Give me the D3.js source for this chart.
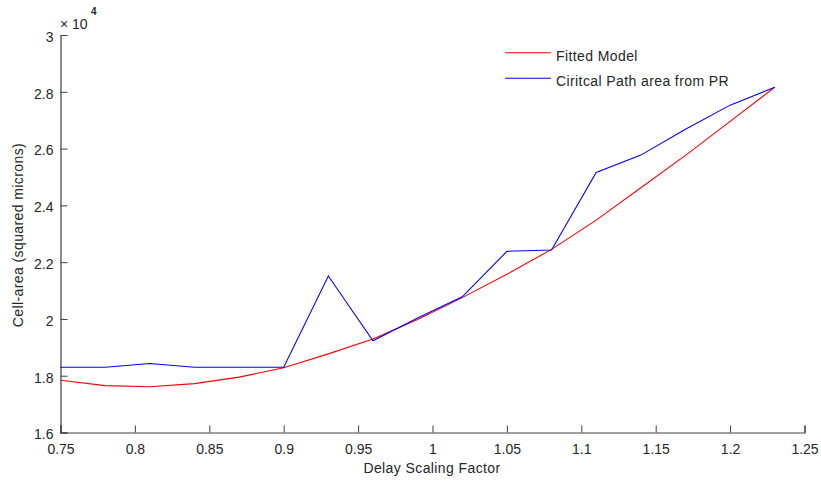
<!DOCTYPE html>
<html><head><meta charset="utf-8">
<script src="https://cdn.jsdelivr.net/npm/d3@7"></script>
<style>
html,body{margin:0;padding:0;background:#fff;}
text{font-family:"Liberation Sans",Arial,sans-serif;fill:#262626;}
</style></head>
<body><svg id="c" width="821" height="482"></svg>
<script>
const xValues = [0.75,0.78,0.81,0.84,0.87,0.90,0.93,0.96,0.99,1.02,1.05,1.08,1.11,1.14,1.17,1.20,1.23];
const fittedModel = [1.784,1.765,1.761,1.772,1.795,1.828,1.877,1.929,1.998,2.075,2.157,2.245,2.348,2.462,2.576,2.696,2.816];
const criticalPathArea = [1.830,1.830,1.843,1.830,1.830,1.830,2.151,1.923,2.003,2.078,2.238,2.243,2.516,2.577,2.668,2.753,2.816];
const xTicks = [0.75,0.8,0.85,0.9,0.95,1,1.05,1.1,1.15,1.2,1.25];
const yTicks = [1.6,1.8,2,2.2,2.4,2.6,2.8,3];
const legendLabels = ["Fitted Model","Ciritcal Path area from PR"];
const seriesColors = ["#ff0000","#0000ff"];

const svg = d3.select("#c");
const x = d3.scaleLinear().domain([0.75,1.25]).range([60.5,804.5]);
const y = d3.scaleLinear().domain([1.6,3]).range([432.5,35]);
const axisColor = "#404040";

const xAxis = svg.append("g").attr("transform","translate(0,432.5)")
  .call(d3.axisBottom(x).tickValues(xTicks).tickSize(-7).tickPadding(12).tickFormat(d3.format("")));
const yAxis = svg.append("g").attr("transform","translate(60.5,0)")
  .call(d3.axisLeft(y).tickValues(yTicks).tickSize(-7).tickPadding(7).tickFormat(d3.format("")));
[xAxis,yAxis].forEach(a=>{
  a.select(".domain").attr("stroke",axisColor).attr("stroke-width",1.2);
  a.selectAll(".tick line").attr("stroke",axisColor);
  a.selectAll(".tick text").style("font-size","14px").attr("fill","#262626")
   .style("font-family","'Liberation Sans',Arial,sans-serif");
});
xAxis.selectAll(".tick text").attr("dy","0.71em");
yAxis.selectAll(".tick text").attr("dy","0.45em");

svg.append("text").attr("x",60).attr("y",29).style("font-size","14px").text("\u00d7 10");
svg.append("text").attr("x",91).attr("y",15).style("font-size","10px").style("font-weight","bold").text("4");

const line = d3.line().x((d,i)=>x(xValues[i])).y(d=>y(d));
[fittedModel,criticalPathArea].forEach((s,i)=>{
  svg.append("path").datum(s).attr("d",line).attr("fill","none")
    .attr("stroke",seriesColors[i]).attr("stroke-width",1.1);
});

svg.append("text").attr("x",432).attr("y",473).attr("text-anchor","middle")
  .style("font-size","14px").style("letter-spacing","0.4px").text("Delay Scaling Factor");
svg.append("text").attr("transform","translate(23,235) rotate(-90)").attr("text-anchor","middle")
  .style("font-size","14px").style("letter-spacing","0.4px").text("Cell-area (squared microns)");

legendLabels.forEach((t,i)=>{
  const ly = 52.7 + i*25.6;
  svg.append("line").attr("x1",505).attr("x2",551).attr("y1",ly).attr("y2",ly)
    .attr("stroke",seriesColors[i]).attr("stroke-width",1.1);
  svg.append("text").attr("x",556).attr("y",ly+8).style("font-size","14px")
    .style("letter-spacing","0.4px").text(t);
});
</script></body></html>
